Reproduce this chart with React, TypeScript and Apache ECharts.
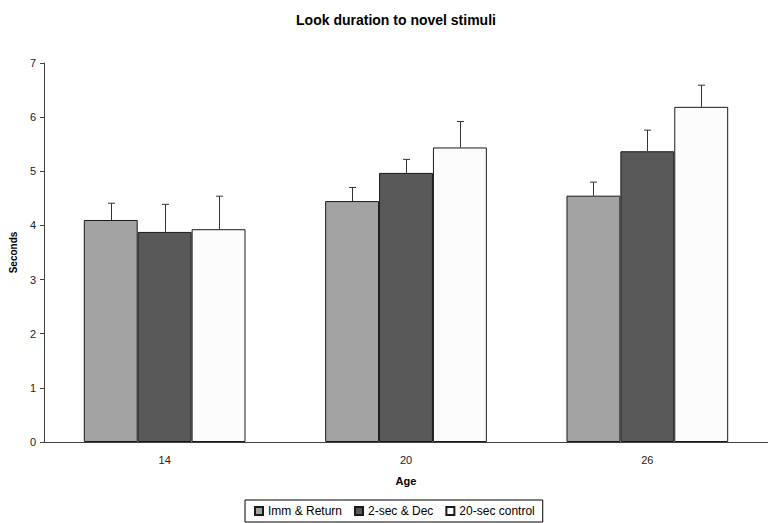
import React, { useEffect, useRef } from "react";
import * as echarts from "echarts";

const categories = ["14", "20", "26"];
const seriesNames = ["Imm & Return", "2-sec & Dec", "20-sec control"];
const immReturn = [4.1, 4.45, 4.55];
const immReturnUpper = [4.41, 4.7, 4.8];
const twoSecDec = [3.88, 4.97, 5.37];
const twoSecDecUpper = [4.39, 5.22, 5.76];
const twentySec = [3.93, 5.44, 6.19];
const twentySecUpper = [4.54, 5.92, 6.59];
const yTicks = [0, 7, 1];

const FONT = "'Liberation Sans', Arial, sans-serif";
const colors = ["#a3a3a3", "#595959", "#fcfcfc"];
const CAT_GAP = 0.33;

export default function App() {
  const ref = useRef<HTMLDivElement>(null);
  useEffect(() => {
    if (!ref.current) return;
    const chart = echarts.init(ref.current, null, { renderer: "svg" });
    const values = [immReturn, twoSecDec, twentySec];
    const uppers = [immReturnUpper, twoSecDecUpper, twentySecUpper];

    const bars = values.map((v, k) => ({
      name: seriesNames[k],
      type: "bar",
      data: v,
      barGap: "0%",
      barCategoryGap: CAT_GAP * 100 + "%",
      itemStyle: { color: colors[k], borderColor: "#1a1a1a", borderWidth: 1 },
      z: 2,
    }));

    const errs = values.map((v, k) => ({
      name: "err" + k,
      type: "custom",
      z: 3,
      data: v.map((val, i) => [i, val, uppers[k][i]]),
      encode: { x: 0, y: 2 },
      renderItem: (params: any, api: any) => {
        const ci = api.value(0);
        const p0 = api.coord([ci, api.value(1)]);
        const p1 = api.coord([ci, api.value(2)]);
        const catW = api.size([1, 0])[0];
        const barW = (catW * (1 - CAT_GAP)) / 3;
        const x = Math.round(p0[0] + (k - 1) * barW) + 0.5;
        const style = { stroke: "#333", lineWidth: 1 };
        return {
          type: "group",
          children: [
            { type: "line", shape: { x1: x, y1: p0[1], x2: x, y2: p1[1] }, style },
            { type: "line", shape: { x1: x - 3.5, y1: p1[1], x2: x + 3.5, y2: p1[1] }, style },
          ],
        };
      },
    }));

    chart.setOption({
      animation: false,
      textStyle: { fontFamily: FONT },
      title: {
        text: "Look duration to novel stimuli",
        left: 391,
        textAlign: "center",
        top: 8,
        textStyle: { fontSize: 14, fontWeight: "bold", color: "#000", fontFamily: FONT },
      },
      legend: {
        data: seriesNames.map((n) => ({ name: n, icon: "rect" })),
        left: 245,
        top: 500,
        padding: [5, 8, 5, 9],
        itemGap: 12,
        itemWidth: 8,
        itemHeight: 8,
        borderColor: "#000",
        borderWidth: 1,
        textStyle: { fontSize: 12, color: "#000", fontFamily: FONT },
      },
      grid: { left: 41, top: 63, width: 731, height: 379 },
      xAxis: {
        type: "category",
        data: categories,
        name: "Age",
        nameLocation: "middle",
        nameGap: 33,
        nameTextStyle: { fontSize: 11, fontWeight: "bold", color: "#000", fontFamily: FONT },
        axisLine: { lineStyle: { color: "#404040", width: 1 } },
        axisTick: { length: 4, lineStyle: { color: "#404040" } },
        axisLabel: { fontSize: 11, color: "#222", margin: 12, fontFamily: FONT },
      },
      yAxis: {
        type: "value",
        min: yTicks[0],
        max: yTicks[1],
        interval: yTicks[2],
        name: "Seconds",
        nameLocation: "middle",
        nameGap: 26,
        nameTextStyle: { fontSize: 10, fontWeight: "bold", color: "#000", fontFamily: FONT },
        axisLine: { show: true, lineStyle: { color: "#404040", width: 1 } },
        axisTick: { show: true, length: 4, lineStyle: { color: "#404040" } },
        axisLabel: { fontSize: 11, color: "#222", margin: 8, fontFamily: FONT },
        splitLine: { show: false },
      },
      series: [...bars, ...errs],
    });
    return () => chart.dispose();
  }, []);
  return <div ref={ref} style={{ width: 768, height: 523, position: "absolute", left: 0, top: 0 }} />;
}
